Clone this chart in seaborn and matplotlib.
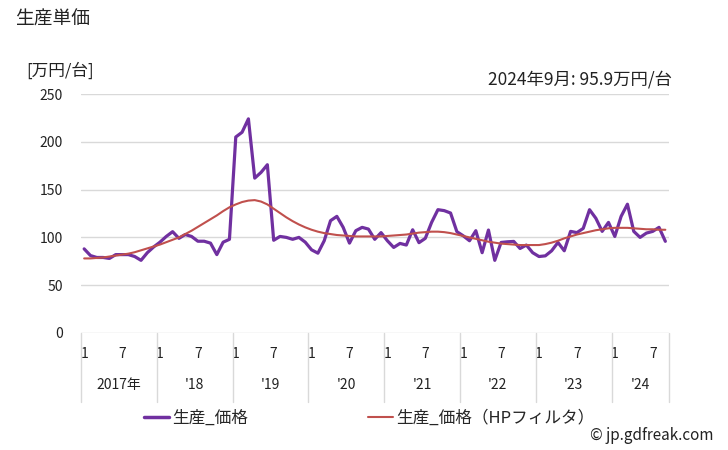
import matplotlib
matplotlib.use("Agg")
import matplotlib.pyplot as plt
import matplotlib.transforms as mtransforms
from matplotlib.lines import Line2D
import seaborn as sns
import pandas as pd

# ---- data (monthly, Jan 2017 .. Sep 2024) ----
years = ["2017年", "'18", "'19", "'20", "'21", "'22", "'23", "'24"]
price = [
    88, 81, 79, 79, 78, 82, 82, 82, 80, 76, 84, 90,          # 2017
    95, 101, 106, 99, 103, 101, 96, 96, 94, 82, 95, 98,      # 2018
    205, 210, 224, 162, 168, 176, 97, 101, 100, 98, 100, 95,  # 2019
    87, 83.5, 96.5, 117.5, 122, 110.5, 94, 107, 110.5, 108.7, 98, 105,  # 2020
    96.5, 89.5, 93.7, 92, 108, 94.5, 99, 115.7, 129, 128, 125.5, 106,   # 2021
    101.7, 96.5, 107, 84, 107.7, 76, 94.7, 95.4, 95.8, 88.4, 92, 84,    # 2022
    80, 80.7, 86, 94.7, 86, 106.3, 105, 109.4, 129, 120, 106.3, 115.7,  # 2023
    101, 122, 134.7, 106.3, 100, 104.5, 106.3, 110.5, 95.9,             # 2024
]
hp = [
    78, 78, 78.5, 79, 80, 81, 82, 83, 84.5, 86.5, 88.5, 90.5,
    92.5, 95, 97.5, 100, 103.5, 107, 111, 115, 119, 123, 127.5, 131.5,
    134.5, 137, 138.5, 139, 137.5, 134.5, 130, 125.5, 121, 117, 113.5, 110.5,
    108, 106, 104.5, 103.5, 102.5, 102, 101.5, 101, 101, 101, 101, 101,
    101.5, 102, 102.5, 103, 104, 105, 105.5, 106, 106, 105.5, 104.5, 103,
    101.5, 100, 98.5, 97, 95.5, 94.5, 93.5, 93, 92.5, 92, 92, 92,
    92, 93, 94.5, 96.5, 99, 101, 103, 104.5, 106, 107.5, 108.5, 109.5,
    110, 110, 110, 109.5, 109, 108.5, 108.5, 108, 108,
]
month_labels = ["1", "7"]
y_ticks = [0, 50, 100, 150, 200, 250]
series_names = ["生産_価格", "生産_価格（HPフィルタ）"]

df = pd.DataFrame({"idx": range(len(price)), "price": price, "hp": hp})

sns.set_style("white")
plt.rcParams["font.family"] = ["Noto Sans CJK JP", "DejaVu Sans"]

W, H = 728, 450
fig = plt.figure(figsize=(W / 100, H / 100), dpi=100)
L, R, T, B = 81, 668.5, 94, 333
ax = fig.add_axes([L / W, 1 - B / H, (R - L) / W, (B - T) / H])

purple = "#7030A0"
red = "#C0504D"
sns.lineplot(data=df, x="idx", y="price", ax=ax, color=purple, linewidth=2.3, zorder=3)
sns.lineplot(data=df, x="idx", y="hp", ax=ax, color=red, linewidth=1.5, zorder=4)

n = len(price)
ax.set_xlim(-0.5, n - 0.5)
ax.set_ylim(0, 250)
ax.set_yticks(y_ticks)
ax.yaxis.grid(True, color="#d9d9d9", linewidth=1)
ax.xaxis.grid(False)
for s in ax.spines.values():
    s.set_visible(False)
ax.tick_params(axis="y", length=0, pad=13, labelsize=10, labelcolor="#222222")
ax.set_xlabel("")
ax.set_ylabel("")

# month ticks
xt, xl = [], []
for k in range(len(years)):
    for m, lab in zip([0, 6], month_labels):
        if 12 * k + m < n:
            xt.append(12 * k + m)
            xl.append(lab)
ax.set_xticks(xt)
ax.set_xticklabels(xl)
ax.tick_params(axis="x", length=0, pad=10, labelsize=10, labelcolor="#222222")

# category separators & year labels
trans = mtransforms.blended_transform_factory(ax.transData, ax.transAxes)
ah = B - T
sep_depth = (402 - 333) / ah
bounds = [12 * k - 0.5 for k in range(len(years))] + [n - 0.5]
for b in bounds:
    ax.add_line(Line2D([b, b], [0, -sep_depth], transform=trans, color="#d9d9d9",
                       linewidth=1, clip_on=False))
for k, yl in enumerate(years):
    x0 = bounds[k]
    x1 = bounds[k + 1]
    ax.text((x0 + x1) / 2, -(385 - 333) / ah, yl, transform=trans, ha="center",
            va="center", fontsize=10, color="#222222")

# texts
fig.text(15 / W, 1 - 19 / H, "生産単価", fontsize=13.5, va="center", ha="left", color="#222222")
fig.text(26 / W, 1 - 71 / H, "[万円/台]", fontsize=12, va="center", ha="left", color="#222222")
fig.text(672 / W, 1 - 79 / H, "2024年9月: 95.9万円/台", fontsize=12.5, va="center", ha="right",
         color="#222222")
fig.text(714 / W, 1 - 436 / H, "© jp.gdfreak.com", fontsize=11, va="center", ha="right",
         color="#222222")

handles = [Line2D([], [], color=purple, linewidth=2.5), Line2D([], [], color=red, linewidth=1.5)]
fig.legend(handles, series_names, loc="center", bbox_to_anchor=(369 / W, 1 - 418 / H), ncol=2,
           frameon=False, fontsize=12, handlelength=1.5, handletextpad=0.2, columnspacing=7.2)

fig.savefig("out.png", dpi=100)
